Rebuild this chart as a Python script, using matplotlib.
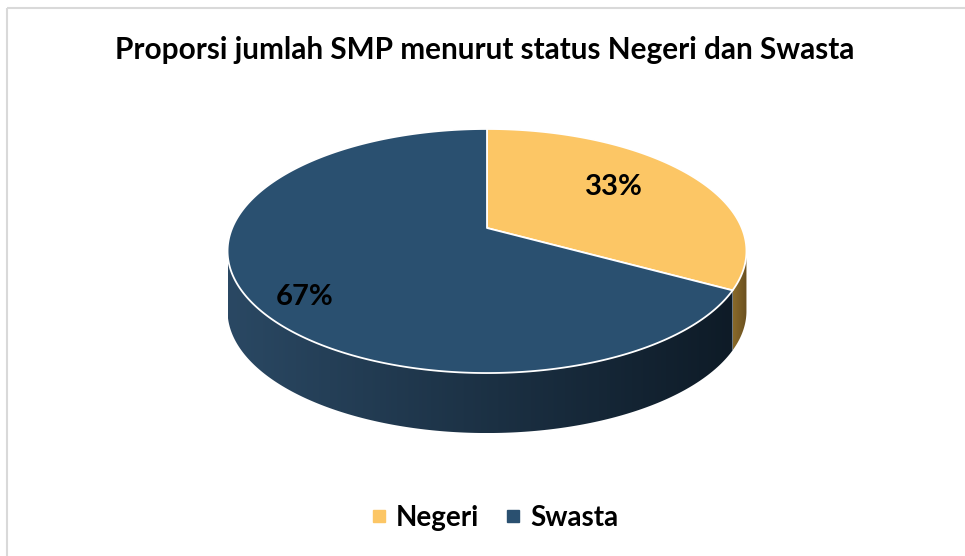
import numpy as np
import matplotlib.pyplot as plt
from matplotlib.patches import Polygon, Rectangle
from matplotlib.lines import Line2D
from matplotlib.colors import LinearSegmentedColormap

title = "Proporsi jumlah SMP menurut status Negeri dan Swasta"
categories = ["Negeri", "Swasta"]
values = [33, 67]
top_colors = ["#FCC665", "#2A5070"]
side_left = ["#8A6A2A", "#2A4863"]
side_right = ["#6A5020", "#0E1B27"]

plt.rcParams['font.family'] = ['Lato', 'DejaVu Sans']

W, H = 965, 556
fig = plt.figure(figsize=(9.65, 5.56), dpi=100)
ax = fig.add_axes([0, 0, 1, 1])
ax.set_xlim(0, W)
ax.set_ylim(H, 0)
ax.axis('off')

# border
ax.add_patch(Rectangle((7, 8), 970, 560, fill=False, edgecolor='#D9D9D9', lw=1.5))

# perspective pie geometry
cx, cy = 487, 228
A, B, k = 117.7, 254.8, 0.1885
depth = 60


def proj(theta_deg, dy=0.0):
    t = np.radians(theta_deg)
    den = 1 + k * np.sin(t)
    return cx + B * np.cos(t) / den, cy - A * np.sin(t) / den + dy


total = sum(values)
edges = [90.0]
for v in values:
    edges.append(edges[-1] - 360.0 * v / total)

sil = np.degrees(np.arcsin(k))
vis_lo, vis_hi = -180 + sil, -sil

# sides
for i, v in enumerate(values):
    hi, lo = edges[i], edges[i + 1]
    for shift in (-360, 0, 360):
        a = max(lo, vis_lo + shift)
        b = min(hi, vis_hi + shift)
        if b <= a:
            continue
        th = np.linspace(a, b, 200)
        xt, yt = proj(th)
        xb, yb = proj(th[::-1], depth)
        pts = np.column_stack([np.concatenate([xt, xb]), np.concatenate([yt, yb])])
        poly = Polygon(pts, closed=True, facecolor='none', edgecolor='none')
        ax.add_patch(poly)
        cmap = LinearSegmentedColormap.from_list('g', [side_left[i], side_right[i]])
        x0, x1 = pts[:, 0].min(), pts[:, 0].max()
        y0, y1 = pts[:, 1].min(), pts[:, 1].max()
        grad = np.linspace(0, 1, 256).reshape(1, -1)
        im = ax.imshow(grad, cmap=cmap, extent=(x0, x1, y1, y0), aspect='auto',
                       interpolation='bilinear', zorder=1)
        im.set_clip_path(poly)

# top faces
for i, v in enumerate(values):
    hi, lo = edges[i], edges[i + 1]
    th = np.linspace(hi, lo, 300)
    xs, ys = proj(th)
    pts = np.column_stack([np.concatenate([[cx], xs]), np.concatenate([[cy], ys])])
    ax.add_patch(Polygon(pts, closed=True, facecolor=top_colors[i],
                         edgecolor='white', lw=1.3, zorder=2, joinstyle='round'))

# labels
ax.text(614, 187, f"{values[0]}%", ha='center', va='center', fontsize=21,
        fontweight='bold', color='black', zorder=3)
ax.text(305, 297, f"{values[1]}%", ha='center', va='center', fontsize=21,
        fontweight='bold', color='black', zorder=3)

ax.text(485, 50, title, ha='center', va='center', fontsize=21.4,
        fontweight='bold', color='black')

handles = [Line2D([], [], marker='s', linestyle='none', markersize=9,
                  markerfacecolor=c, markeredgecolor=c) for c in top_colors]
fig.legend(handles, categories, loc='center', bbox_to_anchor=(493 / W, 1 - 518 / H),
           ncol=2, frameon=False, prop={'size': 20, 'weight': 'bold'},
           handletextpad=0.2, columnspacing=0.85, handlelength=0.8)

fig.savefig('out.png', dpi=100)
